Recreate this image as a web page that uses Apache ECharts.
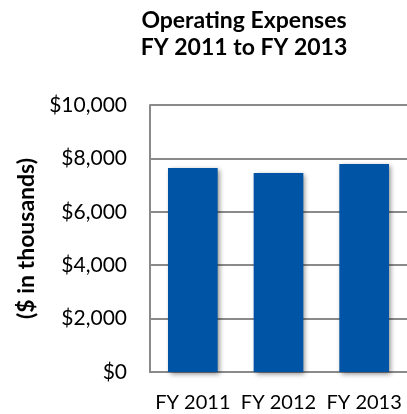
<!DOCTYPE html>
<html>
<head>
<meta charset="utf-8">
<script src="https://cdn.jsdelivr.net/npm/echarts@6/dist/echarts.min.js"></script>
<style>
  html, body { margin: 0; padding: 0; background: #fff; }
  #chart { width: 407px; height: 414px; }
</style>
</head>
<body>
<div id="chart"></div>
<script>
// Operating expenses by fiscal year ($ in thousands)
const categories = ['FY 2011', 'FY 2012', 'FY 2013'];
const expenses = [7640, 7450, 7790];
const yTicks = { min: 0, max: 10000, interval: 2000 };

const FONT = 'Lato, "Open Sans", sans-serif';
const AXIS_GRAY = '#8a8a8a';

const chart = echarts.init(document.getElementById('chart'), null, { renderer: 'canvas' });

chart.setOption({
  animation: false,
  backgroundColor: '#ffffff',
  graphic: [{
    type: 'text',
    style: {
      x: 244,
      y: 7,
      text: 'Operating Expenses\nFY 2011 to FY 2013',
      align: 'center',
      verticalAlign: 'top',
      font: 'bold 23px ' + FONT,
      lineHeight: 27,
      fill: '#000'
    }
  }],
  grid: { left: 150, top: 105, width: 259, bottom: 42, containLabel: false },
  xAxis: {
    type: 'category',
    data: categories,
    axisLine: { lineStyle: { color: AXIS_GRAY, width: 2 } },
    axisTick: { show: false },
    axisLabel: { interval: 0, hideOverlap: false, color: '#000', fontFamily: FONT, fontSize: 20, margin: 21 }
  },
  yAxis: {
    type: 'value',
    min: yTicks.min,
    max: yTicks.max,
    interval: yTicks.interval,
    name: '($ in thousands)',
    nameLocation: 'middle',
    nameRotate: 90,
    nameGap: 110,
    nameTextStyle: { color: '#000', fontFamily: FONT, fontSize: 23, fontWeight: 'bold' },
    axisLine: { show: true, lineStyle: { color: AXIS_GRAY, width: 2 } },
    axisTick: { show: false },
    splitLine: { lineStyle: { color: AXIS_GRAY, width: 2 } },
    axisLabel: {
      color: '#000', fontFamily: FONT, fontSize: 21, margin: 23,
      formatter: v => '$' + v.toLocaleString('en-US')
    }
  },
  series: [{
    type: 'bar',
    data: expenses,
    barWidth: '58%',
    itemStyle: {
      color: '#0054a6',
      shadowColor: 'rgba(0,0,0,0.45)',
      shadowBlur: 5,
      shadowOffsetX: 2,
      shadowOffsetY: 2
    }
  }]
});
</script>
</body>
</html>
